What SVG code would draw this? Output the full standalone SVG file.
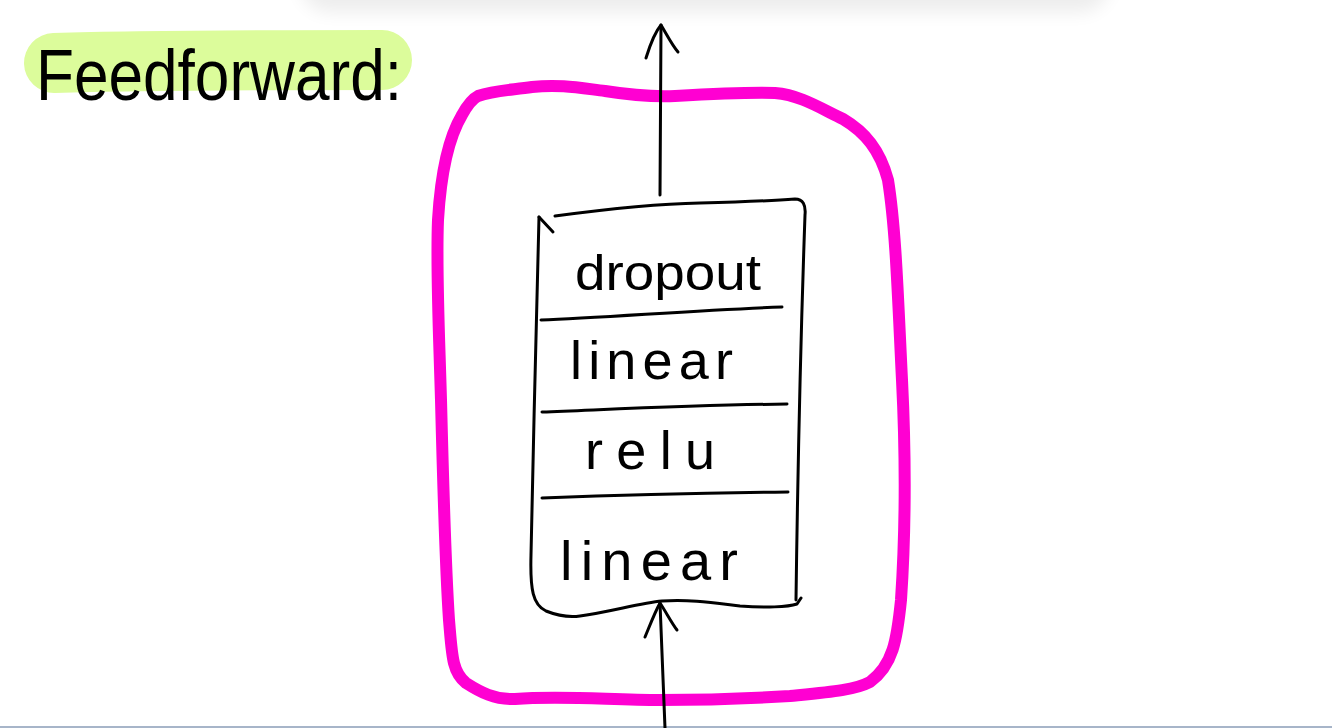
<svg xmlns="http://www.w3.org/2000/svg" width="1332" height="728" viewBox="0 0 1332 728">
  <defs>
    <filter id="blur" x="-20%" y="-100%" width="140%" height="300%">
      <feGaussianBlur stdDeviation="9"/>
    </filter>
    <style>
      .ink { fill: none; stroke: #000; stroke-width: 3; stroke-linecap: round; stroke-linejoin: round; }
      .label { font-family: "Liberation Sans", Arial, sans-serif; fill: #000; }
      .frame { fill: none; stroke: #ff00d2; stroke-width: 12; stroke-linecap: round; stroke-linejoin: round; }
    </style>
  </defs>
  <rect x="0" y="0" width="1332" height="728" fill="#ffffff"/>
  <!-- top shadow -->
  <rect x="300" y="-60" width="810" height="72" rx="30" fill="#000" opacity="0.07" filter="url(#blur)"/>
  <!-- bottom border line -->
  <rect x="0" y="726" width="1332" height="2" fill="#a7b5c9"/>

  <g id="title">
    <path d="M 54,63 C 150,60 300,60 382,60" fill="none" stroke="#dcfc9b" stroke-width="60" stroke-linecap="round"/>
    <text class="label" x="36" y="100" font-size="72" textLength="366" lengthAdjust="spacingAndGlyphs">Feedforward:</text>
  </g>

  <g id="feedforward-block">
    <path class="frame" d="M 478,96 C 495,90 512,90 532,87 C 560,84 580,88 605,91 C 630,95 650,97 675,96 C 710,94 745,92 775,93 C 800,95 820,108 843,119 C 865,132 880,150 888,180 C 896,230 898,300 902,380 C 906,460 905,540 901,600 C 897,640 893,665 870,682 C 855,690 830,692 790,696 C 740,699 700,700 660,700 C 610,700 560,695 515,699 C 495,700 480,692 466,683 C 452,672 452,655 449,620 C 445,560 443,480 441,400 C 439,330 436,270 438,220 C 441,170 450,135 462,115 C 468,104 472,99 478,96 Z"/>
  </g>

  <g id="layer-stack">
    <path class="ink" d="M 539,217 C 537,300 533,450 531,555 C 530,590 533,605 546,611 C 556,615 566,618 580,616 C 610,612 640,603 662,601 C 690,599 715,603 740,606 C 765,608 788,607 797,604 L 801,598"/>
    <path class="ink" d="M 539,217 L 553,232"/>
    <path class="ink" d="M 555,216 C 600,210 650,204 700,203 C 740,202 770,201 795,199 C 803,199 806,205 805,215 C 802,300 798,450 796,600"/>
    <g id="dropout">
      <text class="label" x="575" y="290" font-size="50" textLength="186" lengthAdjust="spacingAndGlyphs">dropout</text>
    </g>
    <path class="ink" d="M 541,320 C 600,318 700,310 782,307"/>
    <g id="linear-2">
      <text class="label" x="570" y="379" font-size="54" textLength="163" lengthAdjust="spacing">linear</text>
    </g>
    <path class="ink" d="M 542,412 C 620,409 700,405 787,404"/>
    <g id="relu">
      <text class="label" x="585" y="469" font-size="54" textLength="130" lengthAdjust="spacing">relu</text>
    </g>
    <path class="ink" d="M 542,498 C 620,495 700,493 788,492"/>
    <g id="linear-1">
      <text class="label" x="560" y="580" font-size="56" textLength="178" lengthAdjust="spacing">linear</text>
    </g>
  </g>

  <g id="connectors">
    <path class="ink" d="M 660,195 L 661,25"/>
    <path class="ink" d="M 646,58 C 650,45 655,32 661,25 C 667,35 672,45 678,52"/>
    <path class="ink" d="M 665,728 L 660,603"/>
    <path class="ink" d="M 645,637 C 650,625 655,612 660,603 C 666,612 671,622 677,630"/>
  </g>
</svg>
